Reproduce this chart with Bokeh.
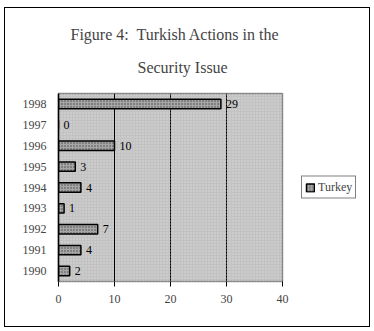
from bokeh.plotting import figure
from bokeh.models import (ColumnDataSource, FactorRange, Range1d, Title, Legend,
                          LegendItem, BoxAnnotation, LabelSet, FixedTicker, InlineStyleSheet)
from bokeh.embed import file_html
from bokeh.resources import INLINE

years = ["1990", "1991", "1992", "1993", "1994", "1995", "1996", "1997", "1998"]
turkey = [2, 4, 7, 1, 4, 3, 10, 0, 29]
x_ticks = [0, 10, 20, 30, 40]
title_lines = ["Figure 4:\u00a0 Turkish Actions in the", "Security Issue"]
series_name = "Turkey"

SERIF = "Liberation Serif"

src = ColumnDataSource(dict(year=years, val=turkey, lab=[str(v) for v in turkey]))

p = figure(width=374, height=331, frame_width=224, frame_height=188,
           output_backend="svg", toolbar_location=None,
           y_range=FactorRange(*years, range_padding=0),
           x_range=Range1d(0, 40))
p.min_border_left = 58
p.min_border_right = 92
p.min_border_top = 93
p.min_border_bottom = 50
p.background_fill_color = "#c2c2c2"
p.border_fill_color = "white"
p.outline_line_color = "#333333"
p.outline_line_dash = "1 1"
p.outline_line_width = 1.5
p.stylesheets = [InlineStyleSheet(css=(
    ":host::after {content: ''; position: absolute; left: 4px; top: 7px; "
    "width: 366px; height: 320px; border: 1.5px solid black; box-sizing: border-box; "
    "pointer-events: none; z-index: 100;}"))]

p.add_layout(BoxAnnotation(fill_color=None, line_color=None,
                           hatch_pattern="dot", hatch_color="#e8e8e8",
                           hatch_scale=3, hatch_alpha=0.6, level="underlay"))

r = p.hbar(y="year", right="val", left=0, height=0.45, source=src,
           fill_color="#a6a6a6", line_color="black", line_width=1.5,
           hatch_pattern="dot", hatch_color="#444444", hatch_scale=3)

p.add_layout(LabelSet(x="val", y="year", text="lab", source=src,
                      x_offset=5, text_font=SERIF, text_font_size="12px",
                      text_baseline="middle", text_color="black"))

p.xgrid.grid_line_color = "black"
p.xgrid.grid_line_width = 1
p.ygrid.grid_line_color = None
p.xaxis.ticker = FixedTicker(ticks=x_ticks)
p.xaxis.minor_tick_line_color = None
p.xaxis.major_tick_out = 5
p.xaxis.major_tick_in = 0
p.xaxis.axis_line_color = None
p.xaxis.major_label_text_font = SERIF
p.xaxis.major_label_text_font_size = "12px"
p.xaxis.major_label_standoff = 8
p.yaxis.major_label_text_font = SERIF
p.yaxis.major_label_text_font_size = "12px"
p.yaxis.major_tick_line_color = None
p.yaxis.axis_line_color = "black"
p.yaxis.axis_line_width = 1.5
p.yaxis.major_label_standoff = 6

legend = Legend(items=[LegendItem(label=series_name, renderers=[r])],
                location="left", border_line_color="black", border_line_width=1,
                label_text_font=SERIF, label_text_font_size="12px",
                glyph_width=10, glyph_height=10, padding=3, spacing=0,
                label_standoff=3, margin=19, background_fill_alpha=1)
p.add_layout(legend, "right")

p.add_layout(Title(text=title_lines[1], align="left", offset=79, text_font=SERIF,
                   text_font_size="16px", text_font_style="normal", standoff=36), "above")
p.add_layout(Title(text=title_lines[0], align="left", offset=12, text_font=SERIF,
                   text_font_size="16px", text_font_style="normal", standoff=-8), "above")

open("out.html", "w").write(file_html(p, INLINE))
